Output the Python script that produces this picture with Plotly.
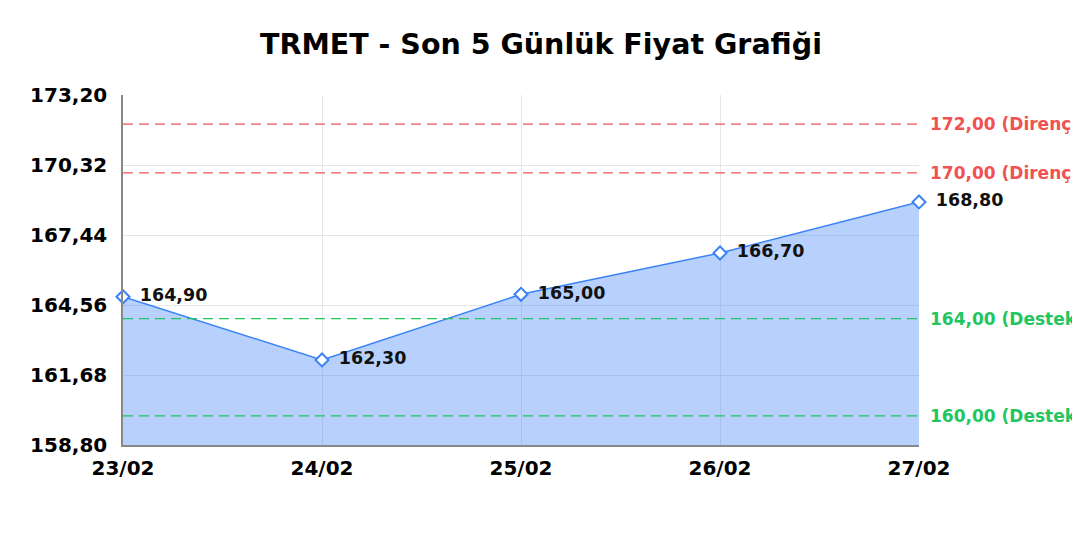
import plotly.graph_objects as go

# data
dates = ["23/02", "24/02", "25/02", "26/02", "27/02"]
prices = [164.90, 162.30, 165.00, 166.70, 168.80]
y_ticks = [158.80, 161.68, 164.56, 167.44, 170.32, 173.20]
resistance = [172.00, 170.00]
support = [164.00, 160.00]

BLUE = "#3b82f6"
RED = "#f05252"
GREEN = "#22c55e"
FONT = "DejaVu Sans"

fig = go.Figure()

fig.add_trace(go.Scatter(
    x=dates,
    y=prices,
    mode="lines+markers+text",
    line=dict(color=BLUE, width=1.5),
    fill="tozeroy",
    fillcolor="rgba(59,130,246,0.37)",
    marker=dict(symbol="diamond", size=10, color="white", line=dict(width=2, color=BLUE)),
    texttemplate="\u2009 %{y:.2f}",
    textposition="middle right",
    textfont=dict(family=FONT, size=17.5, color="#111111", weight="bold"),
    cliponaxis=False,
    showlegend=False,
))

shapes = []
annotations = []
for level in resistance:
    shapes.append(dict(type="line", xref="paper", yref="y", x0=0, x1=1, y0=level, y1=level,
                       line=dict(color=RED, width=1.3, dash="10px,6px")))
    annotations.append(dict(xref="paper", yref="y", x=1.011, y=level, xanchor="left",
                            text=f"{level:.2f}".replace(".", ",") + " (Direnç)", showarrow=False,
                            font=dict(family=FONT, size=17, color=RED, weight="bold")))
for level in support:
    shapes.append(dict(type="line", xref="paper", yref="y", x0=0, x1=1, y0=level, y1=level,
                       line=dict(color=GREEN, width=1.3, dash="10px,6px")))
    annotations.append(dict(xref="paper", yref="y", x=1.011, y=level, xanchor="left",
                            text=f"{level:.2f}".replace(".", ",") + " (Destek)", showarrow=False,
                            font=dict(family=FONT, size=17, color=GREEN, weight="bold")))

fig.update_layout(
    width=1080,
    height=540,
    separators=",.",
    paper_bgcolor="white",
    plot_bgcolor="white",
    font=dict(family=FONT, color="black"),
    title=dict(text="<b>TRMET - Son 5 Günlük Fiyat Grafiği</b>", x=0.4935, xanchor="center",
               y=0.933, yanchor="middle", font=dict(family=FONT, size=28.5, color="black")),
    margin=dict(l=115, r=169, t=87, b=103),
    shapes=shapes,
    annotations=annotations,
)

fig.update_xaxes(
    type="category",
    range=[0, len(dates) - 1],
    showgrid=True, gridcolor="#e6e6e6",
    showline=True, linecolor="#888888", linewidth=1.5,
    ticks="outside", ticklen=4, tickcolor="rgba(0,0,0,0)",
    tickfont=dict(family=FONT, size=20, color="black", weight="bold"),
)
fig.update_yaxes(
    range=[y_ticks[0], y_ticks[-1]],
    tickvals=y_ticks,
    tickformat=".2f",
    showgrid=True, gridcolor="#e6e6e6",
    showline=True, linecolor="#888888", linewidth=1.5,
    zeroline=False,
    ticks="outside", ticklen=10, tickcolor="rgba(0,0,0,0)",
    tickfont=dict(family=FONT, size=20, color="black", weight="bold"),
)

fig.write_html("out.html")
